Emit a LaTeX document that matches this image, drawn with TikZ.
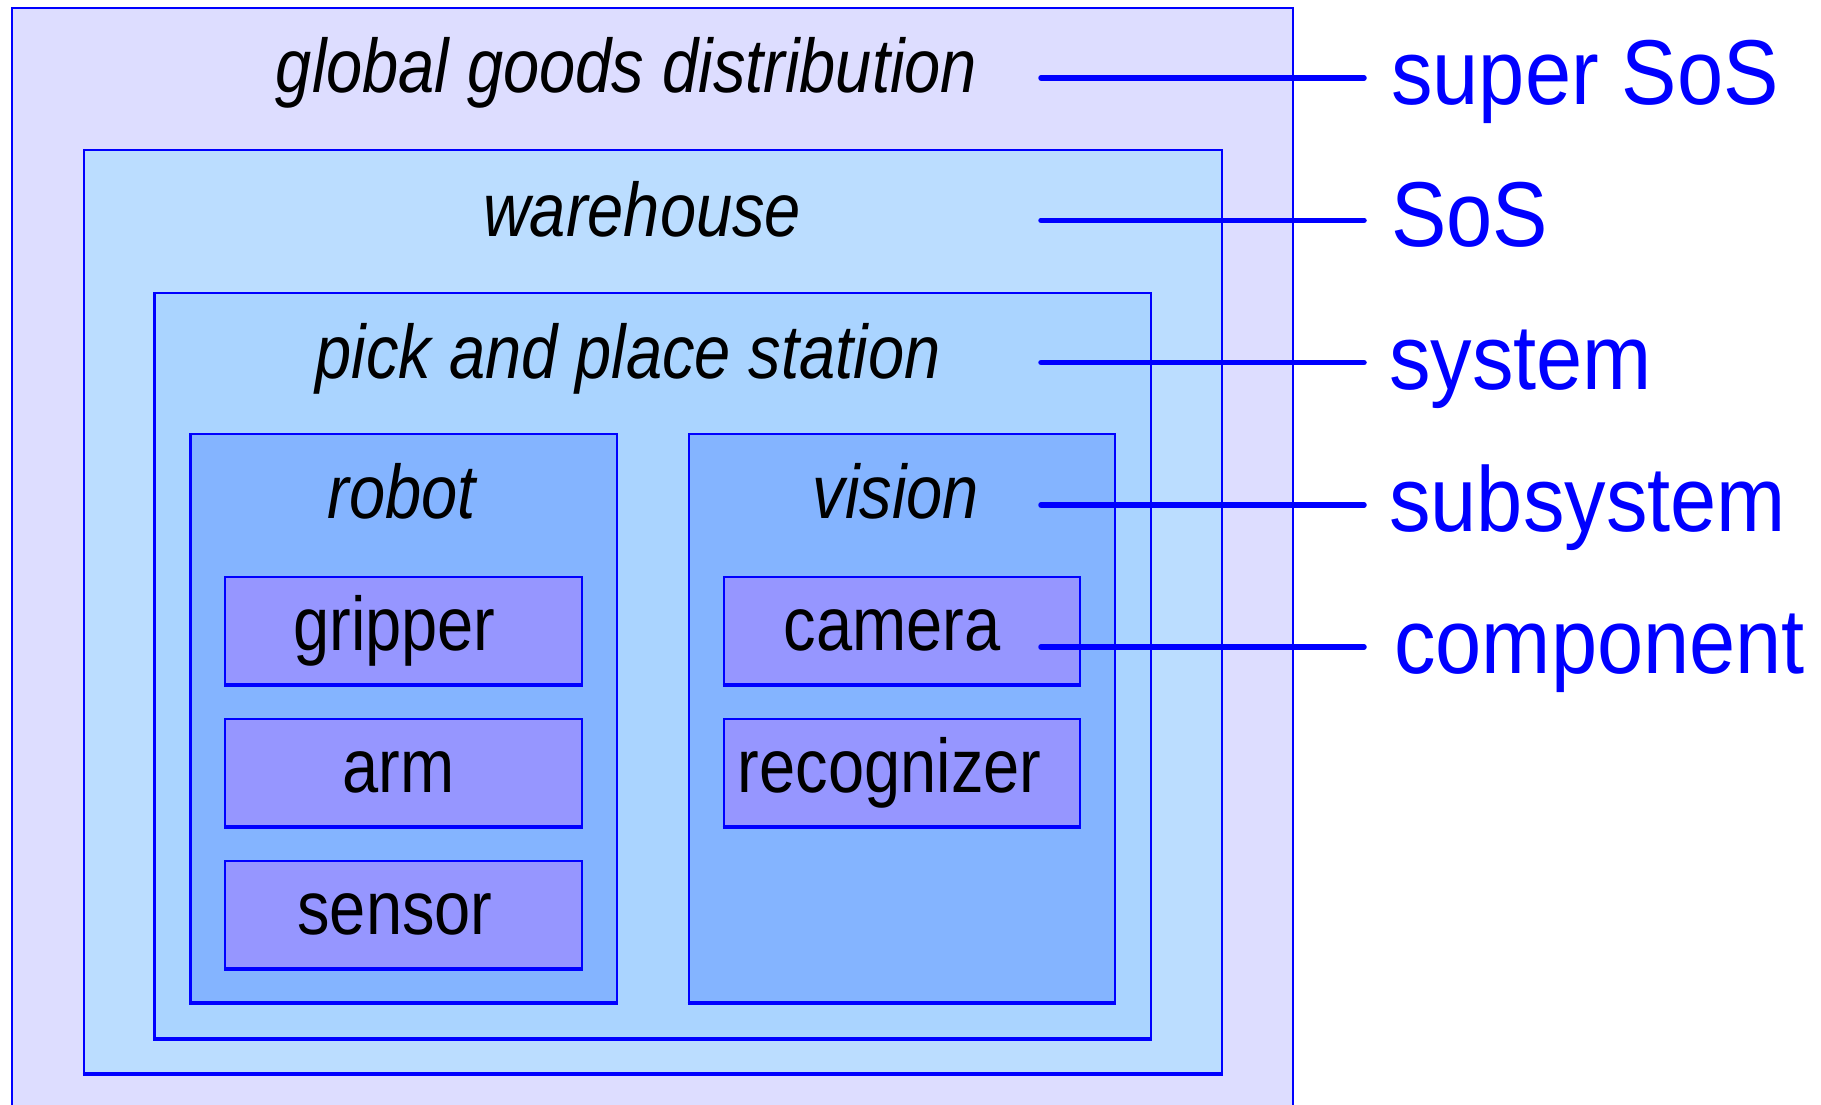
\documentclass[tikz,border=0pt]{standalone}
\usepackage{fontspec}
\setmainfont{Liberation Sans}
\usepackage{graphicx}
\definecolor{bblue}{HTML}{0000FF}
\definecolor{cSuper}{HTML}{DDDDFF}
\definecolor{cSoS}{HTML}{BBDDFF}
\definecolor{cSys}{HTML}{AAD4FF}
\definecolor{cSub}{HTML}{84B4FF}
\definecolor{cComp}{HTML}{9696FF}
\newcommand\vstretchA[1]{\scalebox{1}[1.17]{#1}}
\newcommand\vstretchB[1]{\scalebox{1}[1.11]{#1}}
\begin{document}
\begin{tikzpicture}[x=1pt,y=-1pt,
  box/.style={rectangle, draw=bblue, line width=2.2pt, inner sep=0pt, anchor=north west},
  bottomline/.style={draw=bblue, line width=3.2pt},
  title/.style={font=\fontsize{65}{78}\selectfont\itshape, inner sep=0pt, anchor=base},
  comptext/.style={font=\fontsize{65}{78}\selectfont, inner sep=0pt, anchor=base},
  lvl/.style={font=\fontsize{83}{100}\selectfont, text=bblue, inner sep=0pt, anchor=base west},
  leader/.style={draw=bblue, line width=5.5pt, line cap=round}]
\useasboundingbox (0,0) rectangle (1821,1105);
\clip (0,0) rectangle (1821,1105);
% boxes
\node[box, fill=cSuper, minimum width=1280.5pt, minimum height=1113pt] (outer) at (11,7) {};
\node[box, fill=cSoS, minimum width=1138.1pt, minimum height=923.3pt] (warehouse) at (82.5,148.7) {};
\node[box, fill=cSys, minimum width=996.5pt, minimum height=745.5pt] (station) at (153.3,291.5) {};
\node[box, fill=cSub, minimum width=426.2pt, minimum height=567.8pt] (robot) at (189.3,433.2) {};
\node[box, fill=cSub, minimum width=426.3pt, minimum height=567.8pt] (vision) at (687.5,433.2) {};
\node[box, fill=cComp, minimum width=356.7pt, minimum height=106.7pt] (gripper) at (224,576) {};
\node[box, fill=cComp, minimum width=356.7pt, minimum height=106.7pt] (arm) at (224,718) {};
\node[box, fill=cComp, minimum width=356.7pt, minimum height=106.7pt] (sensor) at (224,860) {};
\node[box, fill=cComp, minimum width=356.3pt, minimum height=106.7pt] (camera) at (722.7,576) {};
\node[box, fill=cComp, minimum width=356.3pt, minimum height=106.7pt] (recognizer) at (722.7,718) {};
\foreach \n in {warehouse,station,robot,vision,gripper,arm,sensor,camera,recognizer}
  \draw[bottomline] ([yshift=-0.5pt]\n.south west) -- ([yshift=-0.5pt]\n.south east);
% titles
\node[title] (tGlobal) at (626.5,93) {\vstretchA{global goods distribution}};
\node[title] (tWare) at (642,236.5) {\vstretchA{warehouse}};
\node[title] (tStation) at (628,378) {\vstretchA{pick and place station}};
\node[title] (tRobot) at (401.5,518) {\vstretchA{robot}};
\node[title] (tVision) at (896,518) {\vstretchA{vision}};
% component texts
\node[comptext] (tGripper) at (394.5,650) {\vstretchA{gripper}};
\node[comptext] (tArm) at (398.4,792) {\vstretchA{arm}};
\node[comptext] (tSensor) at (395,934) {\vstretchA{sensor}};
\node[comptext] (tCamera) at (892,650) {\vstretchA{camera}};
\node[comptext] (tRecog) at (889.7,792) {\vstretchA{recognizer}};
% level labels
\node[lvl] (lSuper) at (1391,104.5) {\vstretchB{super SoS}};
\node[lvl] (lSoS) at (1391,246.8) {\vstretchB{SoS}};
\node[lvl] (lSys) at (1389,389) {\vstretchB{system}};
\node[lvl] (lSub) at (1389,531.5) {\vstretchB{subsystem}};
\node[lvl] (lComp) at (1394,673.8) {\vstretchB{component}};
% leaders
\coordinate (s1) at (1041,78);    \coordinate (e1) at (1364,78);
\coordinate (s2) at (1041,220.3); \coordinate (e2) at (1364,220.3);
\coordinate (s3) at (1041,362.6); \coordinate (e3) at (1364,362.6);
\coordinate (s4) at (1041,505);   \coordinate (e4) at (1364,505);
\coordinate (s5) at (1041,647);   \coordinate (e5) at (1364,647);
\foreach \i in {1,...,5} \draw[leader] (s\i) -- (e\i);
\end{tikzpicture}
\end{document}
